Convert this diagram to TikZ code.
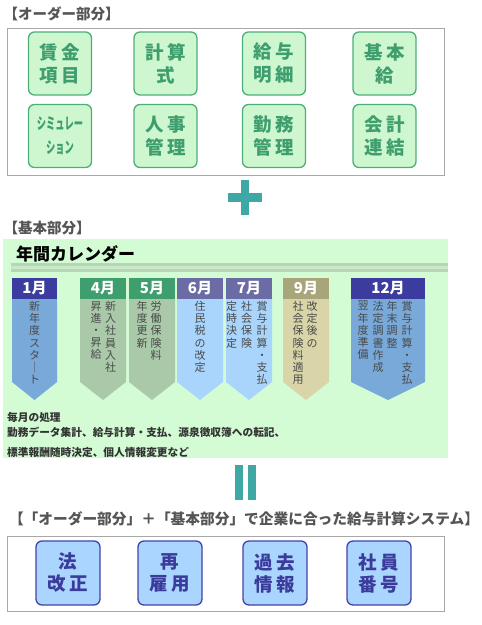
\documentclass[tikz,border=0pt]{standalone}
\usepackage{fontspec}
\usepackage{graphicx}
\setmainfont{Noto Sans CJK JP}
\definecolor{gfill}{HTML}{CFF7CF}
\definecolor{gborder}{HTML}{4DAE7C}
\definecolor{gtext}{HTML}{3E9E6E}
\definecolor{bfill}{HTML}{A9D5FF}
\definecolor{bborder}{HTML}{4343A8}
\definecolor{btext}{HTML}{3B3B9B}
\definecolor{teal1}{HTML}{40A8A4}
\definecolor{headgray}{HTML}{555555}
\definecolor{boxgray}{HTML}{A8A8A8}
\definecolor{calbg}{HTML}{D4FCD4}
\definecolor{band}{HTML}{B6D6B6}
\definecolor{bandmid}{HTML}{C9E9C9}
\definecolor{indigoH}{HTML}{3C3CA0}
\definecolor{steelB}{HTML}{79A9D9}
\definecolor{greenH}{HTML}{3E9E6E}
\definecolor{greenB}{HTML}{A9C9A9}
\definecolor{purpH}{HTML}{6B6BA5}
\definecolor{ltblueB}{HTML}{A9D5FD}
\definecolor{khakiH}{HTML}{A9A57B}
\definecolor{khakiB}{HTML}{D9D5A9}
\definecolor{coltext}{HTML}{4A4A4A}
\definecolor{bodytext}{HTML}{333333}
\tikzset{
  heading/.style={anchor=west, inner sep=0, text=headgray, font=\bfseries\fontsize{14.5}{16}\selectfont},
  outerbox/.style={draw=boxgray, line width=1pt, anchor=north west, inner sep=0},
  gbox/.style={draw=gborder, fill=gfill, line width=1.3pt, rounded corners=6pt, minimum width=63pt, minimum height=63pt, inner sep=0, align=center, text=gtext, font=\bfseries\fontsize{18.5}{23}\selectfont},
  bbox/.style={draw=bborder, fill=bfill, line width=1.3pt, rounded corners=6pt, minimum width=64pt, minimum height=64pt, inner sep=0, align=center, text=btext, font=\bfseries\fontsize{18.5}{22}\selectfont},
  monthlabel/.style={inner sep=0, text=white, font=\bfseries\fontsize{15}{16}\selectfont},
  vcolumn/.style={anchor=north, inner sep=0, align=center, text=coltext, font=\fontsize{11}{12.2}\selectfont},
  bodyline/.style={anchor=west, inner sep=0, text=bodytext, font=\bfseries\fontsize{10.7}{12}\selectfont},
}
\newcommand{\montharrow}[6]{%
  \fill[#5] (#2,299) -- (#3,299) -- (#3,382) -- ({(#2+#3)/2},400) -- (#2,382) -- cycle;
  \fill[#4] (#2,278) rectangle (#3,299);
  \node[monthlabel] (#1) at ({(#2+#3)/2},288.5) {#6};
}
\begin{document}
\begin{tikzpicture}[x=1pt,y=-1pt]
\useasboundingbox (0,0) rectangle (482,625);
\fill[white] (0,0) rectangle (482,625);

% ---- order part
\node[heading] (h1) at (3.5,14) {【オーダー部分】};
\node[outerbox, minimum width=437pt, minimum height=147pt] (order) at (7,27.5) {};
\node[gbox] (o1) at (60,63.5) {賃\,金\\項\,目};
\node[gbox] (o2) at (165.5,63.5) {計\,算\\式};
\node[gbox] (o3) at (274,63.5) {給\,与\\明\,細};
\node[gbox] (o4) at (384.5,63.5) {基\,本\\給};
\node[gbox, font=\bfseries\fontsize{16}{24}\selectfont] (o5) at (60,136) {\scalebox{0.58}[1]{シミュレー}\\\scalebox{0.58}[1]{ション}};
\node[gbox] (o6) at (165.5,136) {人\,事\\管\,理};
\node[gbox] (o7) at (274,136) {勤\,務\\管\,理};
\node[gbox] (o8) at (384.5,136) {会\,計\\連\,結};

% plus
\fill[teal1] (241,180) rectangle (249,215);
\fill[teal1] (228,193) rectangle (262,202);

% ---- basic part
\node[heading] (h2) at (3.5,228) {【基本部分】};
\node[fill=calbg, anchor=north west, inner sep=0, minimum width=445pt, minimum height=219pt] (cal) at (3,239) {};
\node[anchor=west, inner sep=0, text=black, font=\bfseries\fontsize{17}{18}\selectfont] (title) at (16,254) {年間カレンダー};
\fill[band] (11,263) rectangle (448,272);
\fill[bandmid] (11,266.3) rectangle (448,268.7);

\montharrow{m1}{12}{57}{indigoH}{steelB}{1月}
\montharrow{m4}{80}{126}{greenH}{greenB}{4月}
\montharrow{m5}{129}{175}{greenH}{greenB}{5月}
\montharrow{m6}{177}{223}{purpH}{ltblueB}{6月}
\montharrow{m7}{226}{272}{purpH}{ltblueB}{7月}
\montharrow{m9}{283}{329}{khakiH}{khakiB}{9月}
\montharrow{m12}{351}{425}{indigoH}{steelB}{12月}

\node[vcolumn] (c1a) at (34.5,301) {新\\年\\度\\ス\\タ\\｜\\ト};
\node[vcolumn] (c4a) at (110.5,301) {新\\入\\社\\員\\入\\社};
\node[vcolumn] (c4b) at (96,301) {昇\\進\\・\\昇\\給};
\node[vcolumn] (c5a) at (156,301) {労\\働\\保\\険\\料};
\node[vcolumn] (c5b) at (142,301) {年\\度\\更\\新};
\node[vcolumn] (c6a) at (200,301) {住\\民\\税\\の\\改\\定};
\node[vcolumn] (c7a) at (262,301) {賞\\与\\計\\算\\・\\支\\払};
\node[vcolumn] (c7b) at (246.5,301) {社\\会\\保\\険};
\node[vcolumn] (c7c) at (231.5,301) {定\\時\\決\\定};
\node[vcolumn] (c9a) at (312,301) {改\\定\\後\\の};
\node[vcolumn] (c9b) at (298,301) {社\\会\\保\\険\\料\\適\\用};
\node[vcolumn] (c12a) at (407,301) {賞\\与\\計\\算\\・\\支\\払};
\node[vcolumn] (c12b) at (392,301) {年\\末\\調\\整};
\node[vcolumn] (c12c) at (378,301) {法\\定\\調\\書\\作\\成};
\node[vcolumn] (c12d) at (363,301) {翌\\年\\度\\準\\備};

\node[bodyline] (t1) at (7,417) {毎月の処理};
\node[bodyline] (t2) at (7,432.5) {勤務データ集計、給与計算・支払、源泉徴収簿への転記、};
\node[bodyline] (t3) at (7,452) {標準報酬随時決定、個人情報変更など};

% equals
\fill[teal1] (235,465) rectangle (243,500);
\fill[teal1] (248,465) rectangle (256,500);

% ---- result
\node[inner sep=0, text=headgray, font=\bfseries\fontsize{14.7}{16}\selectfont] (h3) at (244,519) {【「オーダー部分」＋「基本部分」で企業に合った給与計算システム】};
\node[outerbox, minimum width=437pt, minimum height=75pt] (result) at (7,536) {};
\node[bbox] (r1) at (68,573) {法\\改\,正};
\node[bbox] (r2) at (170,573) {再\\雇\,用};
\node[bbox] (r3) at (275,573) {過\,去\\情\,報};
\node[bbox] (r4) at (379,573) {社\,員\\番\,号};
\end{tikzpicture}
\end{document}
